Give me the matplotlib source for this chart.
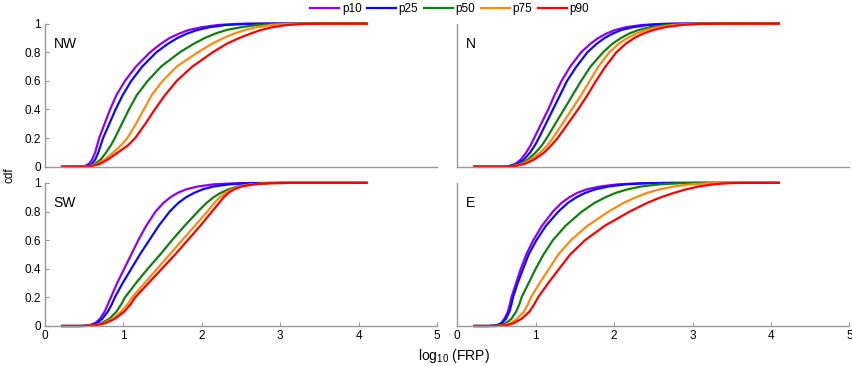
import numpy as np
import matplotlib
matplotlib.use("Agg")
import matplotlib.pyplot as plt

plt.rcParams["font.family"] = ["Liberation Sans", "DejaVu Sans"]

# cdf levels shared by every curve; x values (log10 FRP)
cdf_levels = [0, 0, 0.005, 0.02, 0.05, 0.1, 0.15, 0.2, 0.3, 0.4, 0.5, 0.6, 0.7,
              0.8, 0.86, 0.9, 0.93, 0.955, 0.975, 0.99, 0.998, 1, 1]

series_names = ["p10", "p25", "p50", "p75", "p90"]
series_colors = ["#8f00ff", "#0a0aff", "#108010", "#ff8a10", "#ff0000"]
panel_names = ["NW", "N", "SW", "E"]

nw_frp = [
    [0.22, 0.42, 0.51, 0.56, 0.60, 0.64, 0.665, 0.69, 0.76, 0.83, 0.91, 1.02, 1.16, 1.34, 1.48, 1.59, 1.71, 1.83, 2.00, 2.20, 2.45, 2.80, 4.1],
    [0.22, 0.45, 0.54, 0.60, 0.64, 0.68, 0.71, 0.74, 0.82, 0.90, 0.99, 1.10, 1.24, 1.42, 1.57, 1.69, 1.81, 1.94, 2.10, 2.30, 2.55, 2.90, 4.1],
    [0.22, 0.45, 0.56, 0.64, 0.71, 0.78, 0.84, 0.89, 0.98, 1.07, 1.17, 1.31, 1.48, 1.72, 1.90, 2.04, 2.17, 2.31, 2.50, 2.70, 2.95, 3.20, 4.1],
    [0.22, 0.45, 0.58, 0.67, 0.76, 0.87, 0.97, 1.05, 1.16, 1.26, 1.36, 1.50, 1.68, 1.95, 2.13, 2.28, 2.41, 2.55, 2.70, 2.88, 3.10, 3.35, 4.1],
    [0.22, 0.45, 0.60, 0.70, 0.80, 0.93, 1.06, 1.15, 1.28, 1.40, 1.53, 1.68, 1.88, 2.14, 2.32, 2.48, 2.62, 2.75, 2.90, 3.08, 3.30, 3.55, 4.1],
]
n_frp = [
    [0.22, 0.55, 0.66, 0.74, 0.81, 0.88, 0.935, 0.98, 1.07, 1.16, 1.24, 1.33, 1.44, 1.58, 1.70, 1.80, 1.90, 2.01, 2.15, 2.35, 2.60, 2.90, 4.1],
    [0.22, 0.55, 0.68, 0.77, 0.85, 0.93, 0.99, 1.04, 1.13, 1.22, 1.31, 1.40, 1.52, 1.66, 1.78, 1.88, 1.98, 2.09, 2.24, 2.43, 2.68, 3.00, 4.1],
    [0.22, 0.55, 0.70, 0.80, 0.90, 1.00, 1.08, 1.14, 1.25, 1.36, 1.47, 1.58, 1.70, 1.86, 1.98, 2.09, 2.19, 2.31, 2.46, 2.65, 2.90, 3.20, 4.1],
    [0.22, 0.55, 0.72, 0.83, 0.94, 1.06, 1.15, 1.22, 1.34, 1.46, 1.58, 1.69, 1.80, 1.94, 2.06, 2.17, 2.28, 2.40, 2.56, 2.75, 3.00, 3.30, 4.1],
    [0.22, 0.55, 0.74, 0.86, 0.98, 1.11, 1.20, 1.28, 1.41, 1.54, 1.66, 1.77, 1.89, 2.03, 2.15, 2.26, 2.37, 2.50, 2.65, 2.85, 3.10, 3.40, 4.1],
]
sw_frp = [
    [0.22, 0.45, 0.56, 0.64, 0.70, 0.76, 0.80, 0.84, 0.92, 1.01, 1.10, 1.19, 1.29, 1.41, 1.51, 1.60, 1.69, 1.80, 1.95, 2.15, 2.45, 2.90, 4.1],
    [0.22, 0.45, 0.58, 0.66, 0.73, 0.80, 0.85, 0.89, 0.99, 1.10, 1.21, 1.33, 1.45, 1.59, 1.70, 1.80, 1.90, 2.01, 2.15, 2.35, 2.60, 3.00, 4.1],
    [0.22, 0.50, 0.62, 0.72, 0.82, 0.91, 0.97, 1.02, 1.16, 1.31, 1.47, 1.62, 1.78, 1.95, 2.06, 2.15, 2.24, 2.34, 2.46, 2.62, 2.85, 3.10, 4.1],
    [0.22, 0.50, 0.64, 0.75, 0.86, 0.97, 1.05, 1.11, 1.27, 1.43, 1.59, 1.75, 1.91, 2.07, 2.16, 2.23, 2.30, 2.38, 2.48, 2.63, 2.85, 3.10, 4.1],
    [0.22, 0.50, 0.65, 0.77, 0.89, 1.01, 1.09, 1.15, 1.32, 1.49, 1.66, 1.82, 1.98, 2.13, 2.22, 2.28, 2.34, 2.41, 2.51, 2.66, 2.87, 3.10, 4.1],
]
e_frp = [
    [0.22, 0.40, 0.50, 0.56, 0.60, 0.645, 0.67, 0.69, 0.75, 0.81, 0.88, 0.97, 1.08, 1.22, 1.33, 1.43, 1.53, 1.65, 1.82, 2.05, 2.35, 2.70, 4.1],
    [0.22, 0.40, 0.51, 0.57, 0.62, 0.665, 0.69, 0.71, 0.77, 0.84, 0.91, 1.01, 1.13, 1.29, 1.41, 1.52, 1.63, 1.76, 1.93, 2.15, 2.45, 2.80, 4.1],
    [0.22, 0.45, 0.55, 0.62, 0.69, 0.75, 0.79, 0.82, 0.91, 1.00, 1.10, 1.22, 1.38, 1.59, 1.75, 1.89, 2.02, 2.17, 2.35, 2.58, 2.85, 3.10, 4.1],
    [0.22, 0.50, 0.60, 0.68, 0.76, 0.85, 0.90, 0.94, 1.05, 1.17, 1.29, 1.45, 1.66, 1.93, 2.12, 2.28, 2.42, 2.58, 2.76, 2.98, 3.25, 3.50, 4.1],
    [0.22, 0.50, 0.63, 0.72, 0.82, 0.92, 0.98, 1.03, 1.16, 1.30, 1.44, 1.63, 1.88, 2.20, 2.42, 2.60, 2.76, 2.92, 3.08, 3.27, 3.45, 3.65, 4.1],
]
panel_data = [nw_frp, n_frp, sw_frp, e_frp]

fig = plt.figure(figsize=(8.53, 3.66), dpi=100)
lefts = [0.0528, 0.5361]
bottoms = [0.5445, 0.1093]
axes = []
for r in range(2):
    for c in range(2):
        ax = fig.add_axes([lefts[c], bottoms[r], 0.4596, 0.391])
        axes.append((ax, r, c))

spine_gray = "#999999"
lines = []
for (ax, r, c), name, data in zip(axes, panel_names, panel_data):
    for vals, label, col in zip(data, series_names, series_colors):
        ln, = ax.plot(vals, cdf_levels, color=col, lw=1.6, label=label,
                      clip_on=False, solid_joinstyle="round")
        if name == "NW":
            lines.append(ln)
    ax.set_xlim(0, 5)
    ax.set_ylim(0, 1)
    for s in ["top", "right"]:
        ax.spines[s].set_visible(False)
    for s in ["left", "bottom"]:
        ax.spines[s].set_color(spine_gray)
        ax.spines[s].set_linewidth(1.0)
    ax.tick_params(direction="in", length=3, color=spine_gray,
                   labelsize=8.5, pad=3)
    ax.set_xticks(range(6))
    ax.set_yticks([0, 0.2, 0.4, 0.6, 0.8, 1])
    ax.set_yticklabels(["0", "0.2", "0.4", "0.6", "0.8", "1"])
    if r == 0:
        ax.tick_params(axis="x", bottom=False, labelbottom=False)
    if c == 1:
        ax.tick_params(axis="y", left=False, labelleft=False)
    ax.text(0.022, 0.86, name, transform=ax.transAxes, fontsize=10,
            ha="left", va="center")

fig.legend(handles=lines, loc="upper center", bbox_to_anchor=(0.527, 1.02),
           ncol=5, frameon=False, fontsize=8.5, handlelength=2.5,
           handletextpad=0.2, columnspacing=0.45)

fig.text(0.011, 0.52, "cdf", rotation=90, ha="center", va="center", fontsize=8.5)
fig.text(0.532, 0.027, r"$\mathregular{log_{10}}$ (FRP)", ha="center",
         va="center", fontsize=10)

fig.savefig("out.png", dpi=100)
